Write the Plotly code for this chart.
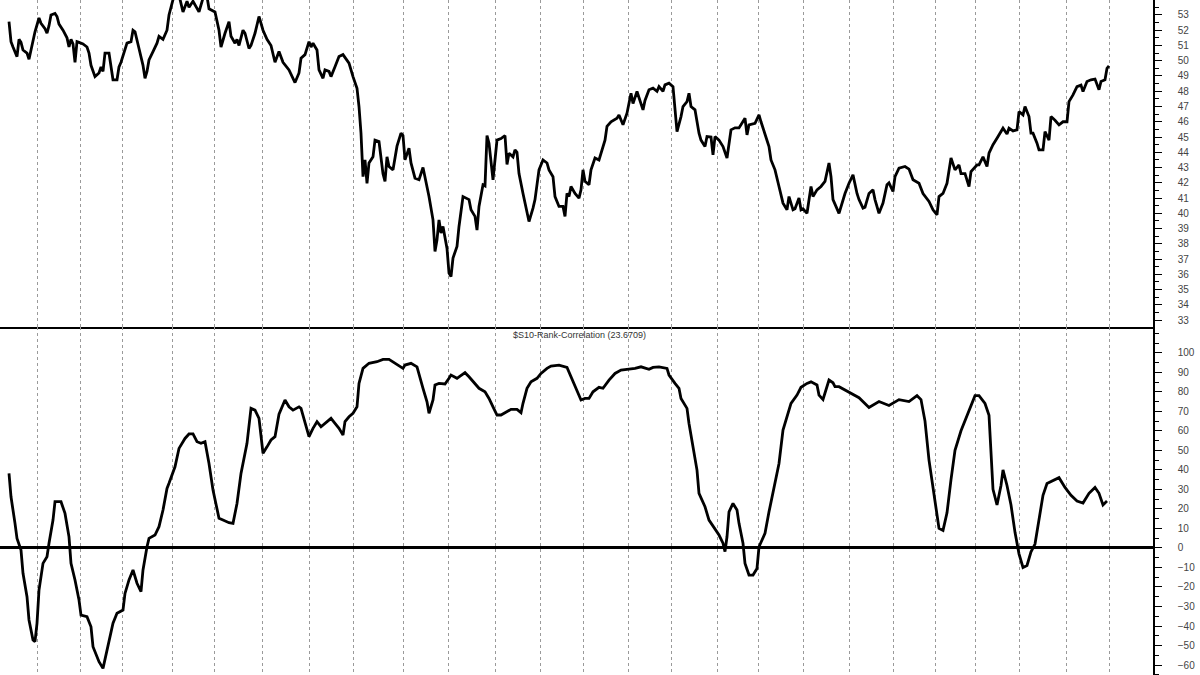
import plotly.graph_objects as go

# ---- Data (trading-day index, values) ----
price_day = [0,1,2,4,5,6,7,9,10,11,12,13,15,16,18,19,20,21,23,24,25,27,29,30,31,32,33,34,35,37,39,40,41,43,45,46,47,48,50,51,52,54,55,56,58,59,61,62,63,64,65,67,68,69,70,72,74,75,77,79,80,82,84,85,87,89,90,92,94,95,97,99,100,103,105,106,108,110,111,113,114,115,117,118,120,121,123,125,127,129,131,133,135,137,140,143,145,146,148,150,151,152,154,155,157,158,160,161,163,165,167,168,170,172,174,175,176,177,178,179,180,182,183,185,186,187,188,189,190,192,194,196,197,198,200,201,203,205,207,209,210,212,213,214,215,216,217,219,220,221,222,224,225,227,229,230,231,233,234,235,237,238,239,240,242,243,244,246,248,249,250,252,253,254,255,257,259,260,262,263,265,267,269,270,272,273,275,277,278,279,280,281,283,285,286,287,288,290,291,293,295,296,298,299,301,304,305,307,309,311,312,314,315,317,318,320,322,324,325,327,328,330,332,333,334,336,337,339,340,341,343,345,346,348,349,351,352,353,355,357,359,361,363,365,368,369,370,373,375,376,378,380,381,383,385,387,389,390,392,393,395,396,397,399,401,402,404,406,408,410,411,412,415,417,418,420,422,424,425,427,428,430,432,433,435,437,439,440,442,443,445,448,450,452,455,457,460,462,464,465,467,469,471,473,475,476,478,480,481,484,485,487,489,490,492,494,496,497,499,500,502,504,505,507,508,510,511,512,514,515,517,518,520,521,523,525,527,529,530,532,534,536,537,539,541,543,545,546,548,549,550]
price = [52.56,51.25,50.9,50.27,51.4,51.2,50.7,50.5,50.1,50.7,51.15,51.9,52.8,52.45,52.1,51.8,52.3,53.0,53.1,52.9,52.4,52.0,51.5,50.9,51.4,51.1,49.9,51.25,51.2,51.1,50.9,50.5,49.7,48.96,49.2,49.6,49.3,50.5,50.5,49.6,48.75,48.75,49.6,49.9,50.7,51.15,51.25,52.0,51.9,51.25,50.8,49.7,48.85,49.3,50.05,50.6,51.15,51.6,51.4,52.0,53.0,54.0,54.4,54.3,53.2,53.9,53.5,53.9,53.4,53.2,54.1,54.2,53.4,53.2,52.0,50.9,51.8,52.56,51.6,51.15,51.4,51.0,52.0,51.8,50.8,51.0,51.8,52.9,52.0,51.4,51.0,49.9,50.6,49.9,49.4,48.57,49.2,50.16,50.4,51.25,50.9,51.15,50.7,49.4,48.85,49.4,49.3,48.96,49.6,50.27,50.4,50.2,49.84,48.96,48.2,47.0,45.25,42.4,43.5,41.97,43.3,43.7,44.8,44.7,43.5,42.6,42.1,43.7,43.07,42.85,44.4,45.25,45.1,43.5,44.27,43.3,42.3,42.2,43.0,41.76,41.1,39.57,37.5,38.27,39.57,38.7,39.14,37.7,36.08,35.86,37.07,37.83,39.14,41.1,41.0,40.9,40.23,39.8,38.9,40.45,41.87,41.8,45.1,44.6,42.2,43.7,44.8,44.9,45.1,43.2,43.94,43.7,44.16,44.0,42.6,41.3,40.0,39.46,40.34,40.9,42.85,43.5,43.3,42.85,42.4,41.1,40.45,40.45,39.8,41.3,41.1,41.76,41.3,41.0,41.54,42.85,42.1,41.87,42.85,43.63,43.5,43.94,44.8,45.7,46.0,46.23,46.45,45.8,46.56,47.87,47.2,47.98,47.6,46.78,47.4,48.1,48.2,48.0,48.3,48.0,48.42,48.53,48.3,47.0,45.36,46.34,47.0,47.32,47.87,47.0,46.78,45.25,44.8,44.38,45.03,45.0,43.83,45.03,44.8,44.38,43.63,45.47,45.6,45.6,46.23,45.14,45.8,45.9,46.45,46.0,45.25,44.38,43.5,42.85,41.76,40.67,40.23,41.1,40.23,40.3,41.0,40.23,40.3,40.0,41.76,41.1,41.54,41.76,42.1,43.3,42.4,40.9,40.0,40.9,41.3,41.97,42.52,41.3,40.9,40.34,40.4,41.3,41.54,40.9,40.0,40.67,41.87,42.0,41.43,42.4,42.96,43.07,42.9,42.2,41.97,41.3,40.78,40.23,39.9,41.1,41.3,41.97,43.63,42.85,43.17,42.6,42.6,41.76,42.74,43.17,43.17,43.7,43.07,43.94,44.5,44.92,45.36,45.58,45.2,45.58,45.4,45.47,46.67,46.45,47.0,46.34,45.25,45.25,44.6,44.16,44.16,45.36,44.8,46.34,46.1,45.8,46.0,46.0,47.32,47.76,48.3,48.4,47.98,48.64,48.75,48.8,48.1,48.64,48.75,49.5,49.66]

corr_day = [0,1,3,4,6,7,9,10,12,13,14,15,17,19,20,22,23,26,28,30,31,33,35,36,39,41,42,45,47,48,50,52,54,57,58,60,62,64,66,67,69,70,73,75,77,79,80,83,85,88,90,92,94,96,98,100,102,105,107,110,112,114,116,119,121,123,125,127,129,131,133,135,138,140,142,145,146,148,150,152,154,156,159,161,163,165,167,168,170,172,174,175,177,180,184,187,190,193,197,198,201,204,205,207,209,210,212,213,215,218,220,221,224,225,228,230,233,235,238,240,242,244,246,249,251,254,256,257,259,261,264,266,269,271,275,279,281,284,286,288,290,292,295,297,300,303,306,310,313,316,320,322,325,329,330,333,335,336,339,340,342,344,345,348,350,353,355,357,358,359,360,362,364,365,367,368,370,372,374,375,378,380,382,385,387,389,391,394,396,399,401,404,405,407,408,410,412,413,415,420,425,430,435,440,445,450,454,456,458,460,463,465,467,469,471,473,476,480,483,485,488,490,492,494,496,497,499,501,503,505,507,509,511,513,515,517,519,523,525,528,531,534,537,540,543,545,547,549]
corr = [38.2,26.2,12.6,4.9,-1.1,-13.0,-25.0,-36.9,-47.2,-48.0,-38.6,-21.6,-7.9,-4.5,2.4,14.3,23.7,23.7,17.7,5.7,-7.9,-16.4,-26.7,-34.4,-35.2,-40.4,-50.6,-58.3,-61.7,-57.4,-47.2,-38.6,-33.5,-31.8,-23.3,-16.4,-11.3,-18.1,-22.4,-11.3,0.6,4.9,6.6,10.9,19.4,30.5,33.1,41.6,51.0,56.1,58.4,58.4,54.4,53.6,54.4,43.3,29.7,15.2,14.3,12.9,12.6,22.8,38.2,53.6,71.5,70.6,66.4,48.5,51.8,55.3,57.0,68.5,75.8,72.3,70.6,72.3,71.5,63.8,57.0,61.3,64.7,62.1,64.7,66.4,63.8,61.3,57.8,64.7,67.2,69.0,72.3,84.3,92.0,94.6,95.4,96.6,96.6,94.6,92.0,93.7,94.6,92.8,88.6,81.8,74.9,69.0,75.8,83.5,84.3,84.0,86.9,88.6,86.9,87.7,89.8,87.7,84.3,81.8,80.0,76.6,72.3,68.1,68.1,69.8,71.0,71.0,69.3,74.1,81.8,85.1,86.9,89.4,92.0,93.2,93.7,92.5,87.7,80.9,75.8,76.6,76.6,80.0,82.3,81.8,86.0,89.4,91.1,91.6,92.0,92.8,91.5,92.5,92.8,92.0,88.6,84.3,81.8,76.6,71.5,63.8,51.8,39.9,28.0,21.1,14.3,10.0,6.6,2.4,-1.9,5.7,18.5,22.8,19.4,12.6,2.4,-7.9,-13.9,-13.9,-10.5,0.6,7.5,18.5,28.0,43.3,60.4,67.2,74.1,78.3,82.3,84.3,85.1,83.5,78.3,76.1,79.2,86.0,84.6,82.6,82.6,80,77,72,75,73,76,75,78,76,65,45,25,10,9,18,35,50,60,70,78,78,74,68,30,22,32,40,32,22,8,-3,-10,-9,-2,2,15,27,33,35,36,31,27,24,23,28,31,28,22,24]

month_marks = [14,35.5,56.5,81.5,102.5,126.5,150,172,197,219.5,243,265.5,287,309.5,331,354,374.5,397,420,442,463,483,505,528.5,550]

price_ticks = list(range(33, 55))
corr_ticks = list(range(-60, 101, 10))
title_text = "$S10-Rank-Correlation (23.6709)"

x_range = [-4.5, 572]
font_family = "Liberation Sans, Arial, sans-serif"
split = 348 / 675

fig = go.Figure()
fig.add_trace(go.Scatter(x=price_day, y=price, mode="lines",
                         line=dict(color="black", width=2.8),
                         xaxis="x", yaxis="y", showlegend=False))
fig.add_trace(go.Scatter(x=corr_day, y=corr, mode="lines",
                         line=dict(color="black", width=2.8),
                         xaxis="x2", yaxis="y2", showlegend=False))

grid_common = dict(tickmode="array", tickvals=month_marks, showticklabels=False,
                   showgrid=True, gridcolor="#9a9a9a", griddash="dot", gridwidth=1,
                   zeroline=False, range=x_range, ticks="")

fig.update_layout(
    width=1200, height=675,
    margin=dict(l=0, r=47, t=0, b=0),
    paper_bgcolor="white", plot_bgcolor="white",
    font=dict(family=font_family, size=10, color="#333333"),
    xaxis=dict(domain=[0, 1], anchor="y", showline=True, linecolor="black",
               linewidth=1.5, **grid_common),
    xaxis2=dict(domain=[0, 1], anchor="y2", showline=False, **grid_common),
    yaxis=dict(domain=[split, 1], anchor="x", side="right", range=[32.55, 53.98],
               tickmode="array", tickvals=price_ticks, showgrid=False, zeroline=False,
               showline=True, linecolor="black", linewidth=1.5,
               ticks="outside", ticklen=7, tickcolor="black", tickwidth=1,
               ticklabelstandoff=14,
               minor=dict(dtick=0.5, tick0=32.5, ticks="outside", ticklen=4,
                          tickcolor="black", showgrid=False),
               tickfont=dict(size=10, color="#444444", family=font_family)),
    yaxis2=dict(domain=[0, split], anchor="x2", side="right", range=[-65.1, 113.2],
                tickmode="array", tickvals=corr_ticks, showgrid=False,
                zeroline=True, zerolinecolor="black", zerolinewidth=3,
                showline=True, linecolor="black", linewidth=1.5,
                ticks="outside", ticklen=7, tickcolor="black", tickwidth=1,
                ticklabelstandoff=14,
                minor=dict(dtick=5, tick0=0, ticks="outside", ticklen=4,
                           tickcolor="black", showgrid=False),
                tickfont=dict(size=10, color="#444444", family=font_family)),
    annotations=[dict(text=title_text, xref="paper", yref="paper",
                      x=0.503, y=split - 0.012, xanchor="center", yanchor="middle",
                      showarrow=False, font=dict(size=9, color="#333333", family=font_family))],
)

fig.write_html("out.html", config={"displayModeBar": False},
               post_script="document.body.style.margin='0';document.body.style.overflow='hidden';")
